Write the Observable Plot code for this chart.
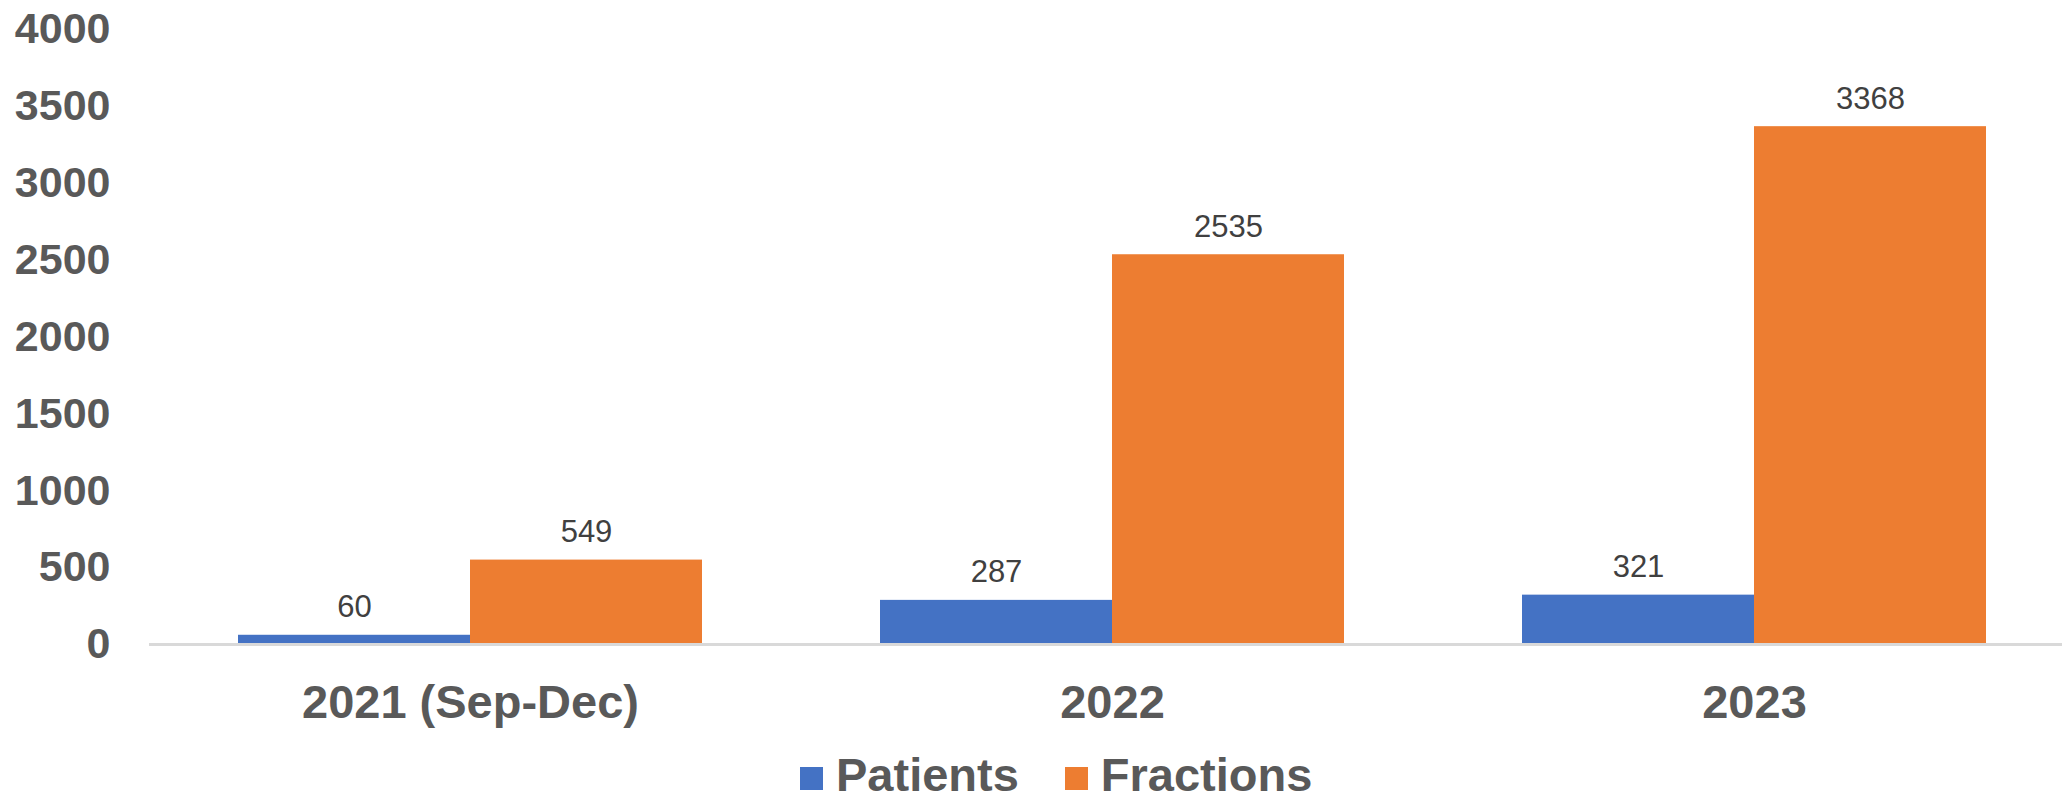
<!DOCTYPE html>
<html>
<head>
<meta charset="utf-8">
<script src="https://cdn.jsdelivr.net/npm/d3@7"></script>
<script src="https://cdn.jsdelivr.net/npm/@observablehq/plot@0.6"></script>
<style>
  html, body { margin: 0; padding: 0; background: #fff; }
  body { width: 2062px; height: 798px; overflow: hidden; font-family: "Liberation Sans", Arial, sans-serif; }
  #legend { display: flex; align-items: center; margin-left: 800px; margin-top: 14px; height: 42px; line-height: 42px; font-weight: bold; font-size: 47px; color: #595959; }
  #legend .item { display: flex; align-items: center; margin-right: 46px; height: 42px; }
  #legend .sw { width: 23px; height: 23px; margin-right: 13px; margin-top: 6px; }
</style>
</head>
<body>
<div id="chart"></div>
<div id="legend"></div>
<script>
const categories = ["2021 (Sep-Dec)", "2022", "2023"];
const seriesNames = ["Patients", "Fractions"];
const patients = [60, 287, 321];
const fractions = [549, 2535, 3368];
const colors = ["#4472C4", "#ED7D31"];
const yTicks = [0, 500, 1000, 1500, 2000, 2500, 3000, 3500, 4000];

const data = [];
categories.forEach((c, i) => {
  data.push({category: c, series: seriesNames[0], value: patients[i]});
  data.push({category: c, series: seriesNames[1], value: fractions[i]});
});

const chart = Plot.plot({
  width: 2062,
  height: 740,
  marginLeft: 149,
  marginRight: 0,
  marginTop: 29,
  marginBottom: 96,
  style: {fontFamily: "'Liberation Sans', Arial, sans-serif", background: "#fff", overflow: "visible"},
  fx: {domain: categories, padding: 0, label: null, range: [149, 2075]},
  x: {domain: seriesNames, paddingInner: 0, paddingOuter: 0.379, axis: null},
  y: {domain: [0, 4000], label: null},
  color: {domain: seriesNames, range: colors},
  marks: [
    Plot.axisY({ticks: yTicks, tickFormat: d => String(d), tickSize: 0, tickPadding: 39, fontSize: 43, fontWeight: "bold", fill: "#595959", label: null}),
    Plot.axisFx({anchor: "bottom", tickSize: 0, tickPadding: 40, fontSize: 47, fontWeight: "bold", fill: "#595959", label: null}),
    Plot.barY(data, {fx: "category", x: "series", y: "value", fill: "series", inset: 0}),
    Plot.ruleY([0], {stroke: "#D9D9D9", strokeWidth: 3}),
    Plot.text(data, {fx: "category", x: "series", y: "value", text: d => String(d.value), lineAnchor: "bottom", dy: -18, fontSize: 31, fill: "#404040"})
  ]
});
document.getElementById("chart").appendChild(chart);

const legend = document.getElementById("legend");
seriesNames.forEach((s, i) => {
  const item = document.createElement("div");
  item.className = "item";
  const sw = document.createElement("div");
  sw.className = "sw";
  sw.style.background = colors[i];
  const label = document.createElement("span");
  label.textContent = s;
  item.appendChild(sw);
  item.appendChild(label);
  legend.appendChild(item);
});
</script>
</body>
</html>
